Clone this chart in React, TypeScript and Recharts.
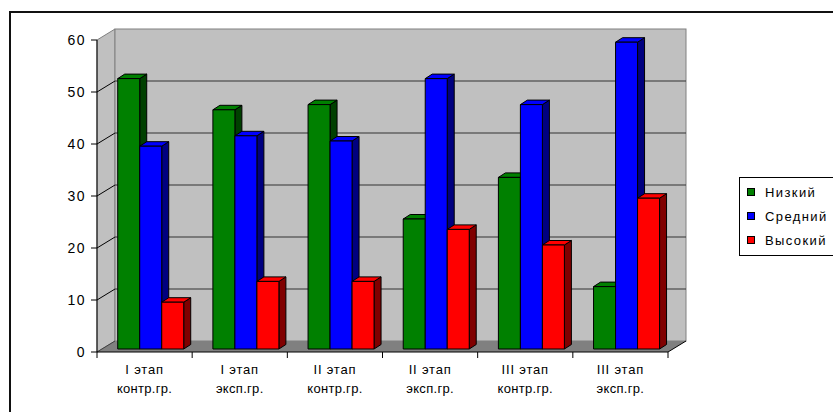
import React from "react"
import {
  BarChart,
  Bar,
  XAxis,
  YAxis,
  CartesianGrid,
  ReferenceArea,
  Legend,
} from "recharts"

const stages = ["I этап", "I этап", "II этап", "II этап", "III этап", "III этап"]
const groups = ["контр.гр.", "эксп.гр.", "контр.гр.", "эксп.гр.", "контр.гр.", "эксп.гр."]
const seriesNames = ["Низкий", "Средний", "Высокий"]
const low = [52, 46, 47, 25, 33, 12]
const mid = [39, 41, 40, 52, 47, 59]
const high = [9, 13, 13, 23, 20, 29]
const yTicks = [0, 10, 20, 30, 40, 50, 60]

const data = stages.map((s, i) => ({
  name: s + " " + groups[i],
  stage: s,
  group: groups[i],
  low: low[i],
  mid: mid[i],
  high: high[i],
}))

// 3d depth of the walls and of the bars
const WX = 18
const WY = -11
const BX = 5.5
const BY = -3
const DX = 7
const DY = -4.5

const FONT = "'Liberation Sans', Arial, sans-serif"

function Walls(props: any) {
  const { x, y, width, height } = props
  const b = y + height
  return (
    <g>
      <polygon
        points={`${x},${y} ${x + WX},${y + WY} ${x + WX},${b + WY} ${x},${b}`}
        fill="#c0c0c0"
        stroke="#808080"
      />
      <rect x={x + WX} y={y + WY} width={width} height={height} fill="#c0c0c0" stroke="#808080" />
      <polygon
        points={`${x},${b} ${x + WX},${b + WY} ${x + width + WX},${b + WY} ${x + width},${b}`}
        fill="#808080"
      />
      <line x1={x} y1={b} x2={x + WX} y2={b + WY} stroke="#404040" />
      <line x1={x + width} y1={b} x2={x + width + WX} y2={b + WY} stroke="#000" />
    </g>
  )
}

function GridLine(props: any) {
  const { x1, y1, x2 } = props
  return (
    <g key={props.key}>
      <line x1={x1} y1={y1} x2={x1 + WX} y2={y1 + WY} stroke="#000" />
      <line x1={x1 + WX} y1={y1 + WY} x2={x2 + WX} y2={y1 + WY} stroke="#333" />
    </g>
  )
}

function Bar3D(props: any) {
  const { x, y, width, height, fill, side } = props
  if (!height || height <= 0) return null
  const X = x + BX
  const Y = y + BY
  return (
    <g stroke="#000" strokeWidth={1} strokeLinejoin="round">
      <polygon
        points={`${X + width},${Y} ${X + width + DX},${Y + DY} ${X + width + DX},${Y + height + DY} ${X + width},${Y + height}`}
        fill={side}
      />
      <polygon
        points={`${X},${Y} ${X + DX},${Y + DY} ${X + width + DX},${Y + DY} ${X + width},${Y}`}
        fill={fill}
      />
      <rect x={X} y={Y} width={width} height={height} fill={fill} />
    </g>
  )
}

function CategoryTick(props: any) {
  const { x, y, payload, width, visibleTicksCount } = props
  const off = payload.offset || width / (2 * (visibleTicksCount || 6))
  const last = payload.index === data.length - 1
  const d = data[payload.index] || { stage: "", group: "" }
  return (
    <g>
      <line x1={x - off} y1={y} x2={x - off} y2={y + 6} stroke="#000" />
      {last && <line x1={x + off} y1={y} x2={x + off} y2={y + 6} stroke="#000" />}
      <text x={x} y={y + 22} textAnchor="middle" fontSize={13} letterSpacing={0.8} fill="#000" fontFamily={FONT}>
        {d.stage}
      </text>
      <text x={x} y={y + 41} textAnchor="middle" fontSize={13} letterSpacing={0.3} fill="#000" fontFamily={FONT}>
        {d.group}
      </text>
    </g>
  )
}

function LegendBox({ payload }: any) {
  const items = [...(payload || [])].sort(
    (a: any, b: any) => seriesNames.indexOf(a.value) - seriesNames.indexOf(b.value)
  )
  return (
    <div
      style={{
        border: "1px solid #000",
        background: "#fff",
        padding: "2px 0 3px 7px",
        fontFamily: FONT,
        fontSize: 13,
        letterSpacing: 1.4,
        color: "#000",
      }}
    >
      {items.map((p: any) => (
        <div key={p.value} style={{ display: "flex", alignItems: "center", height: 24 }}>
          <span
            style={{
              display: "inline-block",
              width: 6,
              height: 6,
              background: p.color,
              border: "1px solid #000",
              marginRight: 10,
            }}
          />
          <span>{p.value}</span>
        </div>
      ))}
    </div>
  )
}

export default function App() {
  return (
    <div
      style={{
        position: "absolute",
        left: 0,
        top: 0,
        width: 833,
        height: 412,
        overflow: "hidden",
        background: "#fff",
        fontFamily: FONT,
      }}
    >
      <div
        style={{
          position: "absolute",
          left: 9,
          top: 11,
          width: 900,
          height: 500,
          border: "2px solid #111",
        }}
      />
      <div style={{ position: "absolute", left: 0, top: 0 }}>
        <BarChart
          width={833}
          height={412}
          data={data}
          margin={{ top: 40, right: 165, bottom: 0, left: 0 }}
          barCategoryGap="16%"
          barGap={0}
        >
          <ReferenceArea y1={0} y2={60} shape={<Walls />} zIndex={-200} ifOverflow="visible" />
          <CartesianGrid
            vertical={false}
            horizontalValues={[10, 20, 30, 40, 50]}
            horizontal={(p: any) => <GridLine {...p} />}
            zIndex={-100}
          />
          <XAxis
            dataKey="name"
            height={60}
            axisLine={{ stroke: "#000" }}
            tickLine={false}
            tickSize={0}
            tickMargin={0}
            interval={0}
            tick={<CategoryTick />}
          />
          <YAxis
            width={97}
            domain={[0, 60]}
            ticks={yTicks}
            interval={0}
            axisLine={{ stroke: "#000" }}
            tickLine={{ stroke: "#000" }}
            tickSize={6}
            tickMargin={5}
            tick={{ fill: "#000", fontSize: 14, letterSpacing: 1.5, fontFamily: FONT }}
          />
          <Legend
            layout="vertical"
            align="center"
            verticalAlign="middle"
            content={<LegendBox />}
            wrapperStyle={{ position: "absolute", left: 739, top: 177, width: 125 }}
          />
          <Bar
            dataKey="low"
            name={seriesNames[0]}
            fill="#008000"
            isAnimationActive={false}
            shape={(p: any) => <Bar3D {...p} side="#004000" />}
          />
          <Bar
            dataKey="mid"
            name={seriesNames[1]}
            fill="#0000ff"
            isAnimationActive={false}
            shape={(p: any) => <Bar3D {...p} side="#000080" />}
          />
          <Bar
            dataKey="high"
            name={seriesNames[2]}
            fill="#ff0000"
            isAnimationActive={false}
            shape={(p: any) => <Bar3D {...p} side="#800000" />}
          />
        </BarChart>
      </div>
    </div>
  )
}
